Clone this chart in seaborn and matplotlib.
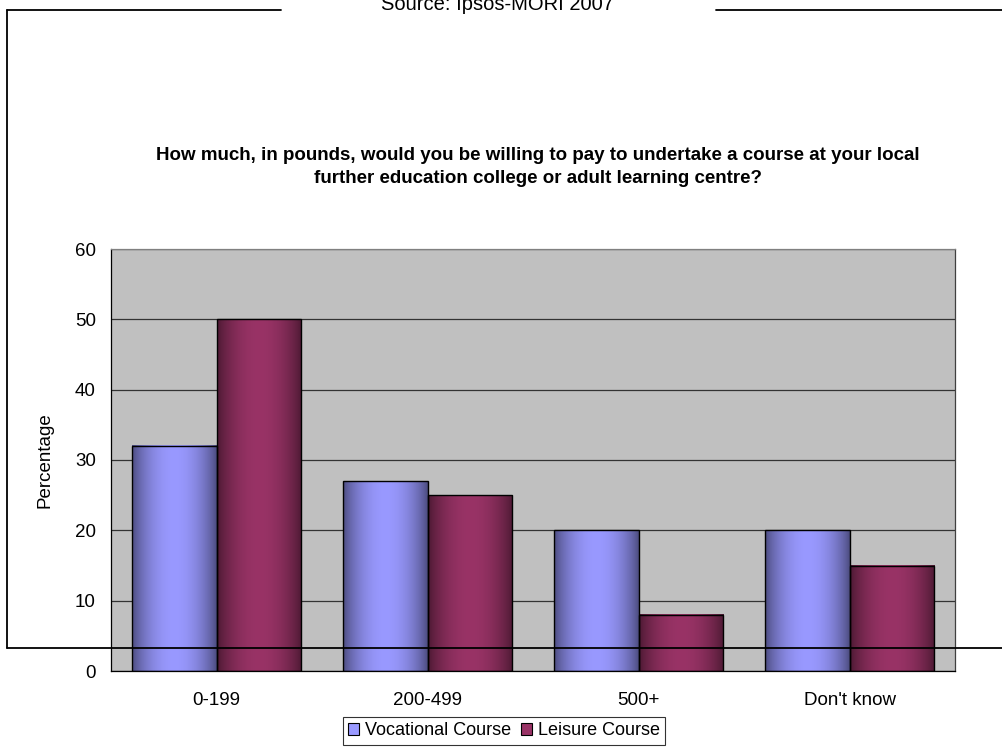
import numpy as np
import pandas as pd
import matplotlib
matplotlib.use("Agg")
import matplotlib.pyplot as plt
from matplotlib.lines import Line2D
from matplotlib.patches import Patch
from matplotlib.colors import to_rgb
import seaborn as sns

# Survey responses (percentage of respondents)
price_bands = ["0-199", "200-499", "500+", "Don't know"]
vocational = [32, 27, 20, 20]
leisure = [50, 25, 8, 15]
series_names = ["Vocational Course", "Leisure Course"]
series_colors = ["#9999FF", "#993366"]
y_ticks = [0, 10, 20, 30, 40, 50, 60]

title = ("How much, in pounds, would you be willing to pay to undertake a course at your local\n"
         "further education college or adult learning centre?")
source = "Source: Ipsos-MORI 2007"

df = pd.DataFrame({
    "band": price_bands * 2,
    "pct": vocational + leisure,
    "course": [series_names[0]] * len(price_bands) + [series_names[1]] * len(price_bands),
})

sns.set_theme(style="white")
plt.rcParams["font.family"] = ["Liberation Sans", "DejaVu Sans"]
plt.rcParams.update({"text.color": "black", "axes.labelcolor": "black",
                     "xtick.color": "black", "ytick.color": "black"})

W, H = 1002, 747
fig = plt.figure(figsize=(W / 100, H / 100), dpi=100)
ax = fig.add_axes([111 / W, 1 - 671 / H, (955 - 111) / W, (671 - 249) / H])
ax.set_facecolor("#C0C0C0")

sns.barplot(data=df, x="band", y="pct", hue="course", order=price_bands,
            hue_order=series_names, palette=series_colors, saturation=1,
            width=0.8, edgecolor="black", linewidth=1.0, ax=ax, legend=False,
            errorbar=None)

# cylinder-like horizontal shading on every bar
n = 200
t = np.linspace(0, 1, n)
shade = 0.48 + 0.52 * np.sin(np.pi * t) ** 0.75
for p in ax.patches:
    h = p.get_height()
    if h <= 0:
        continue
    base = np.array(to_rgb(p.get_facecolor()))
    grad = np.clip(shade[:, None] * base[None, :], 0, 1)[None, :, :]
    x0, w = p.get_x(), p.get_width()
    ax.imshow(grad, extent=[x0, x0 + w, 0, h], aspect="auto",
              interpolation="bilinear", zorder=2)
    p.set_facecolor("none")
    p.set_zorder(3)

ax.set_xlim(-0.5, len(price_bands) - 0.5)
ax.set_ylim(0, 60)
ax.set_yticks(y_ticks)
ax.set_axisbelow(True)
ax.yaxis.grid(True, color="#333333", linewidth=0.9)
ax.xaxis.grid(False)

# category boundary ticks on x
ax.set_xticks(np.arange(len(price_bands)))
ax.set_xticklabels(price_bands, fontsize=13.5)
ax.set_xticks(np.arange(-0.5, len(price_bands)), minor=True)
ax.tick_params(axis="x", which="major", length=0, pad=15)
ax.tick_params(axis="x", which="minor", length=4.5, width=0.9, color="black", direction="out")
ax.tick_params(axis="y", length=4.5, width=0.9, color="black", direction="out",
               labelsize=13.5, pad=6.5)
for s in ax.spines.values():
    s.set_visible(True)
    s.set_color("black")
    s.set_linewidth(0.9)
ax.spines["top"].set_color("#808080")
ax.spines["right"].set_color("#404040")

ax.set_xlabel("")
ax.set_ylabel("Percentage", fontsize=13.5)
ax.yaxis.set_label_coords((54 - 111) / (955 - 111), 0.5)

fig.text(538 / W, 1 - 167 / H, title, ha="center", va="center",
         fontsize=13.5, fontweight="bold", linespacing=1.45)

handles = [Patch(facecolor=c, edgecolor="black", linewidth=0.8) for c in series_colors]
leg = fig.legend(handles, series_names, loc="upper center",
                 bbox_to_anchor=(504 / W, 1 - 717 / H), ncol=2, fontsize=13,
                 frameon=True, fancybox=False, handlelength=0.6, handleheight=0.6,
                 handletextpad=0.3, columnspacing=0.6, borderpad=0.3,
                 borderaxespad=0)
leg.get_frame().set_edgecolor("black")
leg.get_frame().set_linewidth(0.8)

# outer frame with source caption set into its top edge
frame_kw = dict(color="black", linewidth=1.3, transform=fig.transFigure, zorder=10)
fig.add_artist(Line2D([7 / W, 7 / W], [1 - 10 / H, 1 - 648 / H], **frame_kw))
fig.add_artist(Line2D([7 / W, 281 / W], [1 - 10 / H, 1 - 10 / H], **frame_kw))
fig.add_artist(Line2D([716 / W, 1.0], [1 - 10 / H, 1 - 10 / H], **frame_kw))
fig.add_artist(Line2D([7 / W, 1.0], [1 - 648 / H, 1 - 648 / H], **frame_kw))
fig.text(497 / W, 1 - 4 / H, source, ha="center", va="center", fontsize=14.5)

fig.savefig("out.png", dpi=100)
